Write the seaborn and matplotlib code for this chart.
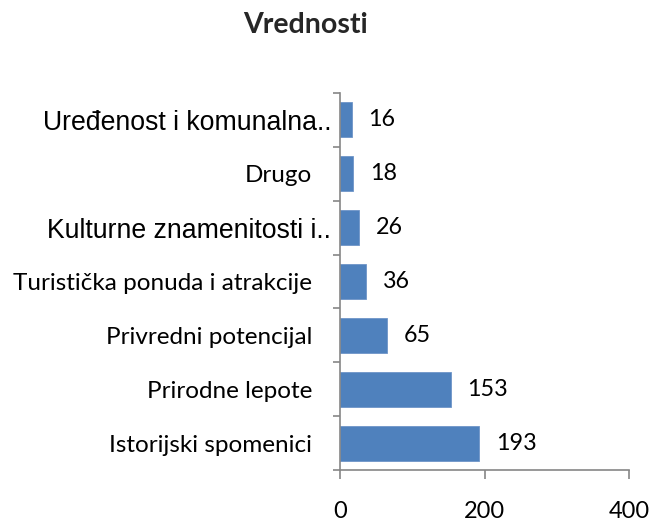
"""
Horizontal bar chart: Vrednosti.
"""
import matplotlib
matplotlib.use("Agg")
import matplotlib.pyplot as plt
import matplotlib.transforms as mtransforms
import seaborn as sns
import pandas as pd

# Data (top to bottom)
categories = [
    "Uređenost i komunalna..",
    "Drugo",
    "Kulturne znamenitosti i..",
    "Turistička ponuda i atrakcije",
    "Privredni potencijal",
    "Prirodne lepote",
    "Istorijski spomenici",
]
values = [16, 18, 26, 36, 65, 153, 193]
x_ticks = [0, 200, 400]
# labels that Excel drew in a different (Arial-like) font
arial_labels = {"Uređenost i komunalna..", "Kulturne znamenitosti i.."}

sns.set_style("white")
plt.rcParams['font.family'] = ['Lato', 'DejaVu Sans']

df = pd.DataFrame({"category": categories, "value": values})

fig = plt.figure(figsize=(6.51, 5.25), dpi=100)
ax = fig.add_axes([340 / 651, 1 - 470 / 525, 289 / 651, 377 / 525])

sns.barplot(data=df, x="value", y="category", orient="h", color="#4F81BD",
            saturation=1, width=0.65, edgecolor="#6F95C8", linewidth=0.6, ax=ax)

ax.set_xlim(0, 400)
ax.set_ylim(len(categories) - 0.5, -0.5)
ax.set_xticks(x_ticks)
ax.set_xlabel("")
ax.set_ylabel("")

# spines
for side in ["top", "right"]:
    ax.spines[side].set_visible(False)
for side in ["left", "bottom"]:
    ax.spines[side].set_color("#868686")
    ax.spines[side].set_linewidth(1.2)

# tick marks: y ticks between categories, x ticks downwards
ax.set_yticks([i + 0.5 for i in range(-1, len(categories))], minor=True)
ax.tick_params(axis="y", which="major", length=0, pad=20, labelsize=17.5,
               labelcolor="black")
ax.tick_params(axis="y", which="minor", length=5, width=1.2, color="#868686",
               direction="out", left=True)
ax.tick_params(axis="x", which="major", length=6.5, width=1.2, color="#868686",
               direction="out", bottom=True, pad=16, labelsize=17,
               labelcolor="black")

# the two truncated labels use an Arial-like font and sit closer to the axis
for lbl in ax.get_yticklabels():
    if lbl.get_text() in arial_labels:
        lbl.set_fontfamily("Liberation Sans")
        lbl.set_fontsize(19.2)
        lbl.set_transform(lbl.get_transform() +
                          mtransforms.ScaledTranslation(19 / 100, 0, fig.dpi_scale_trans))

# value labels, nudged slightly below the bar centre as in the original
labels = ax.bar_label(ax.containers[0], padding=12, fontsize=16.8, color="black")
for t in labels:
    t.set_transform(t.get_transform() +
                    mtransforms.ScaledTranslation(0, -2 / 100, fig.dpi_scale_trans))

fig.text(306 / 651, 1 - 33 / 525, "Vrednosti", ha="center", va="baseline",
         fontsize=20.5, fontweight="bold")

fig.savefig("out.png", dpi=100)
